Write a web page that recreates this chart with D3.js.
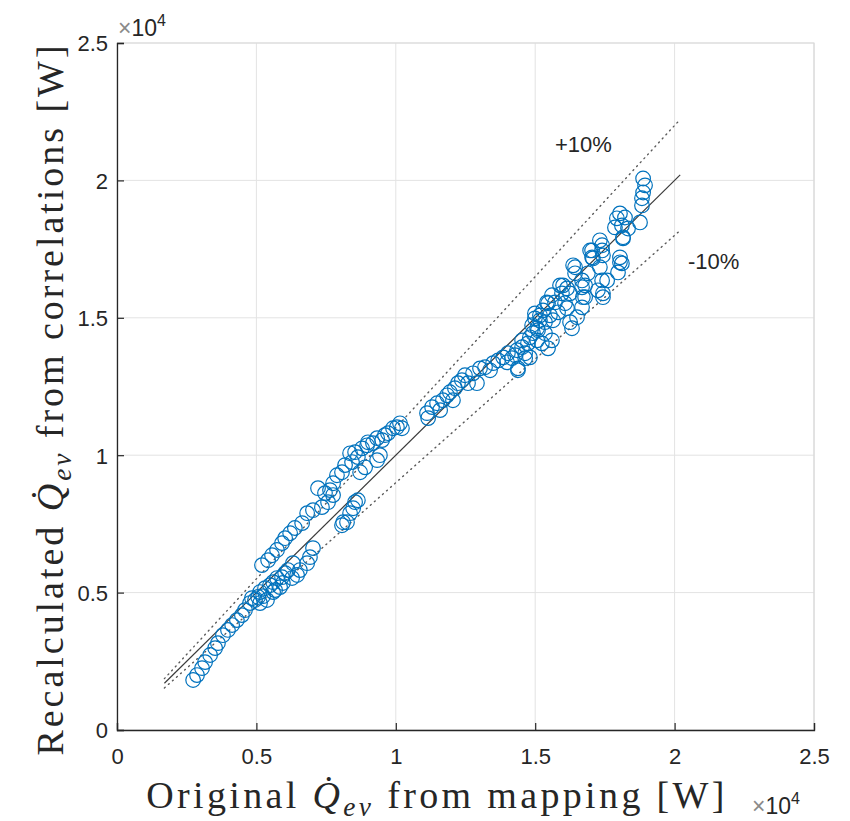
<!DOCTYPE html>
<html>
<head>
<meta charset="utf-8">
<script src="https://cdn.jsdelivr.net/npm/d3@7"></script>
<style>
  html, body { margin: 0; padding: 0; background: #fff; }
  svg { display: block; }
</style>
</head>
<body>
<svg id="chart" width="850" height="821"></svg>
<script>
(() => {
  // original Qev (mapping) and recalculated Qev (correlations), W
  const qOriginal = [
    2730, 2870, 3050, 3160, 3340, 3520, 3620, 3800, 3980, 4130, 4300, 4480, 4590, 4770, 4950, 5060,
    5130, 5310, 5490, 5600, 5740, 5920, 6030, 6130, 5130, 5380, 5200, 5420, 5560, 5740, 5920, 6030,
    6210, 6380, 6640, 6560, 6820, 6920, 7030, 8070, 8250, 6310, 6460, 5850, 5600, 4840, 5240, 5670,
    5950, 6280,
    6820, 7030, 7350, 7460, 7640, 7750, 7890, 8070, 8180, 8430, 8360, 8540, 8640, 8790, 8970, 9000,
    9180, 9330, 9510, 9610, 9720, 9900, 10040, 10150, 10220, 9430, 9330, 8900, 8720, 7750, 7210, 7570,
    8540, 8640, 8470, 8360, 8110, 11120, 11160,
    11300, 11480, 11690, 11840, 11940, 12120, 12230, 12370, 12590, 12480, 12770, 13020, 13200, 13380,
    13490, 13670, 13850, 14020, 14170, 14350, 14380, 14530, 14640, 14740, 14810, 14920, 15070, 15100,
    15240, 14890, 14990, 15170, 15280, 15460, 15640, 15600, 15350, 15460, 12050, 11590, 12910,
    13990, 14380, 14280, 14640, 14810, 15070, 14990, 15170, 15350, 15530, 15420, 15600, 15710, 15890,
    15960, 16140, 15820, 16140, 16320, 16500, 16360, 16430, 16680, 16790, 16890, 17040, 17070, 17320,
    17400, 17320, 17580, 17250, 17430, 18110, 18040, 18150, 16710, 16680, 16250, 14530,
    18870, 18940, 18870, 18830, 18830, 18760, 18040, 17930, 18220, 17860, 18110, 18330, 18150, 17400,
    16970, 17040, 17430, 18040, 17970, 16430, 17400, 16680, 16000, 16250, 16070, 16790, 17430
  ];
  const qRecalc = [
    1820, 2000, 2250, 2470, 2730, 2980, 3160, 3450, 3640, 3820, 4000, 4180, 4360, 4620, 4730, 4840,
    5020, 5160, 5270, 5380, 5530, 5560, 5710, 5820, 4620, 4730, 6000, 6180, 6360, 6550, 6800, 6980,
    7160, 7350, 7530, 5820, 6070, 6290, 6620, 7450, 7560, 6070, 5640, 5200, 5020, 4800, 4870, 5090,
    5350, 5530,
    7890, 8000, 8110, 8620, 8730, 8980, 9270, 9380, 9640, 9750, 10070, 10110, 9930, 10250, 10360, 10470,
    10440, 10620, 10550, 10730, 10800, 10980, 11020, 11160, 10980, 10000, 9820, 9560, 9380, 8550, 8800, 8290,
    8290, 8360, 8070, 7890, 7560, 11530, 11350,
    11750, 11890, 12000, 12180, 12290, 12440, 12620, 12730, 12620, 12910, 12980, 13160, 13200, 13090,
    13350, 13450, 13560, 13710, 13530, 13820, 13160, 13930, 13530, 14070, 14290, 14440, 14180, 14550,
    14070, 14730, 14980, 15090, 15270, 15530, 14910, 14180, 14440, 13890, 12000, 11640, 12620,
    13380, 13090, 13640, 13710, 13560, 14620, 15160, 14910, 14840, 15090, 15560, 15820, 15560, 16180,
    15890, 16070, 15200, 15350, 14620, 15020, 16910, 16620, 16360, 16180, 16620, 17450, 17160, 17820,
    17450, 16840, 16360, 16000, 15890, 16980, 17200, 17930, 15750, 15380, 14840, 14180,
    20070, 19820, 19560, 19350, 19090, 18470, 18800, 18620, 18650, 18290, 18360, 18250, 17890, 17640,
    17450, 17200, 17270, 17020, 16650, 16840, 16360, 16110, 16180, 15890, 15530, 15750, 15750
  ];

  // reference lines y = k x
  const refSlopes = [1, 1.1, 0.9];
  const refRange = [1700, 20200];
  const ticks = [0, 5000, 10000, 15000, 20000, 25000];
  const bandLabels = ['+10%', '-10%'];

  const svg = d3.select('#chart');
  const left = 117;
  const right = 814;
  const top = 43;
  const bottom = 730;
  const ink = '#262626';
  const blue = '#0072BD';
  const sans = 'Liberation Sans, Arial, sans-serif';
  const serif = 'Liberation Serif, Times New Roman, serif';

  const x = d3.scaleLinear().domain([0, 25000]).range([left, right]);
  const y = d3.scaleLinear().domain([0, 25000]).range([bottom, top]);

  // grid
  const grid = svg.append('g').attr('stroke', '#e3e3e3').attr('stroke-width', 1);
  ticks.forEach(t => {
    grid.append('line').attr('x1', x(t)).attr('x2', x(t)).attr('y1', top).attr('y2', bottom);
    grid.append('line').attr('x1', left).attr('x2', right).attr('y1', y(t)).attr('y2', y(t));
  });

  // box (top / right in light grey)
  svg.append('path')
    .attr('d', `M${left},${top}H${right}V${bottom}`)
    .attr('fill', 'none').attr('stroke', '#d9d9d9').attr('stroke-width', 1.2);

  // axes with inward ticks
  const fmt = d => d3.format('~g')(d / 10000);
  const xAxis = svg.append('g')
    .attr('transform', `translate(0,${bottom})`)
    .call(d3.axisBottom(x).tickValues(ticks).tickSize(-7).tickPadding(34).tickFormat(fmt));
  const yAxis = svg.append('g')
    .attr('transform', `translate(${left},0)`)
    .call(d3.axisLeft(y).tickValues(ticks).tickSize(-7).tickPadding(9).tickFormat(fmt));
  [xAxis, yAxis].forEach(a => {
    a.select('.domain').attr('stroke', ink).attr('stroke-width', 1.3);
    a.selectAll('.tick line').attr('stroke', ink).attr('stroke-width', 1.2);
    a.selectAll('.tick text')
      .attr('fill', ink)
      .style('font-family', sans)
      .style('font-size', '22px');
  });
  xAxis.selectAll('.tick text').attr('dy', 0);
  yAxis.selectAll('.tick text').attr('dy', '0.36em');

  // reference lines
  const refs = svg.append('g');
  refSlopes.forEach(k => {
    const l = refs.append('line')
      .attr('x1', x(refRange[0])).attr('y1', y(k * refRange[0]))
      .attr('x2', x(refRange[1])).attr('y2', y(k * refRange[1]));
    if (k === 1) {
      l.attr('stroke', '#3a3a3a').attr('stroke-width', 1.2);
    } else {
      l.attr('stroke', '#5a5a5a').attr('stroke-width', 1.4)
        .attr('stroke-dasharray', '1,4.4').attr('stroke-linecap', 'round');
    }
  });

  // scatter markers
  svg.append('g')
    .selectAll('circle')
    .data(qOriginal.map((d, i) => [d, qRecalc[i]]))
    .enter()
    .append('circle')
    .attr('cx', d => x(d[0]))
    .attr('cy', d => y(d[1]))
    .attr('r', 7.3)
    .attr('fill', 'none')
    .attr('stroke', blue)
    .attr('stroke-width', 1.2);

  // band labels
  svg.append('text').text(bandLabels[0])
    .attr('x', 555).attr('y', 152)
    .attr('fill', ink).style('font-family', sans).style('font-size', '22px');
  svg.append('text').text(bandLabels[1])
    .attr('x', 688).attr('y', 269)
    .attr('fill', ink).style('font-family', sans).style('font-size', '22px');

  // x10^4 multipliers
  const multiplier = (px, py) => {
    const t = svg.append('text').attr('x', px).attr('y', py)
      .style('font-family', sans).style('font-size', '23px');
    t.append('tspan').text('\u00d7').attr('fill', '#8a8a8a');
    t.append('tspan').text('10').attr('fill', ink);
    t.append('tspan').text('4').attr('fill', ink)
      .attr('dy', -10).style('font-size', '16px');
  };
  multiplier(118, 36);
  multiplier(752, 814);

  // axis titles with dotted Q and subscript, spread to their span
  const title = (parts, tx, ty, rot, span) => {
    const size = 38;
    const t = svg.append('text')
      .attr('text-anchor', 'middle')
      .attr('fill', ink)
      .style('font-family', serif)
      .style('font-size', size + 'px')
      .attr('transform', `translate(${tx},${ty}) rotate(${rot})`);
    t.append('tspan').text(parts[0]);
    t.append('tspan').text('Q\u0307').style('font-style', 'italic');
    t.append('tspan').text('ev').style('font-style', 'italic')
      .style('font-size', (size * 0.72) + 'px').attr('dy', size * 0.2);
    t.append('tspan').text(parts[1]).attr('dy', -size * 0.2);
    const w = t.node().getComputedTextLength();
    const n = t.text().length;
    t.style('letter-spacing', Math.max(0, (span - w) / n) + 'px');
    return t;
  };
  title(['Original ', ' from mapping [W]'], 437, 808, 0, 585);
  title(['Recalculated ', ' from correlations [W]'], 63, 399, -90, 716);
})();
</script>
</body>
</html>
